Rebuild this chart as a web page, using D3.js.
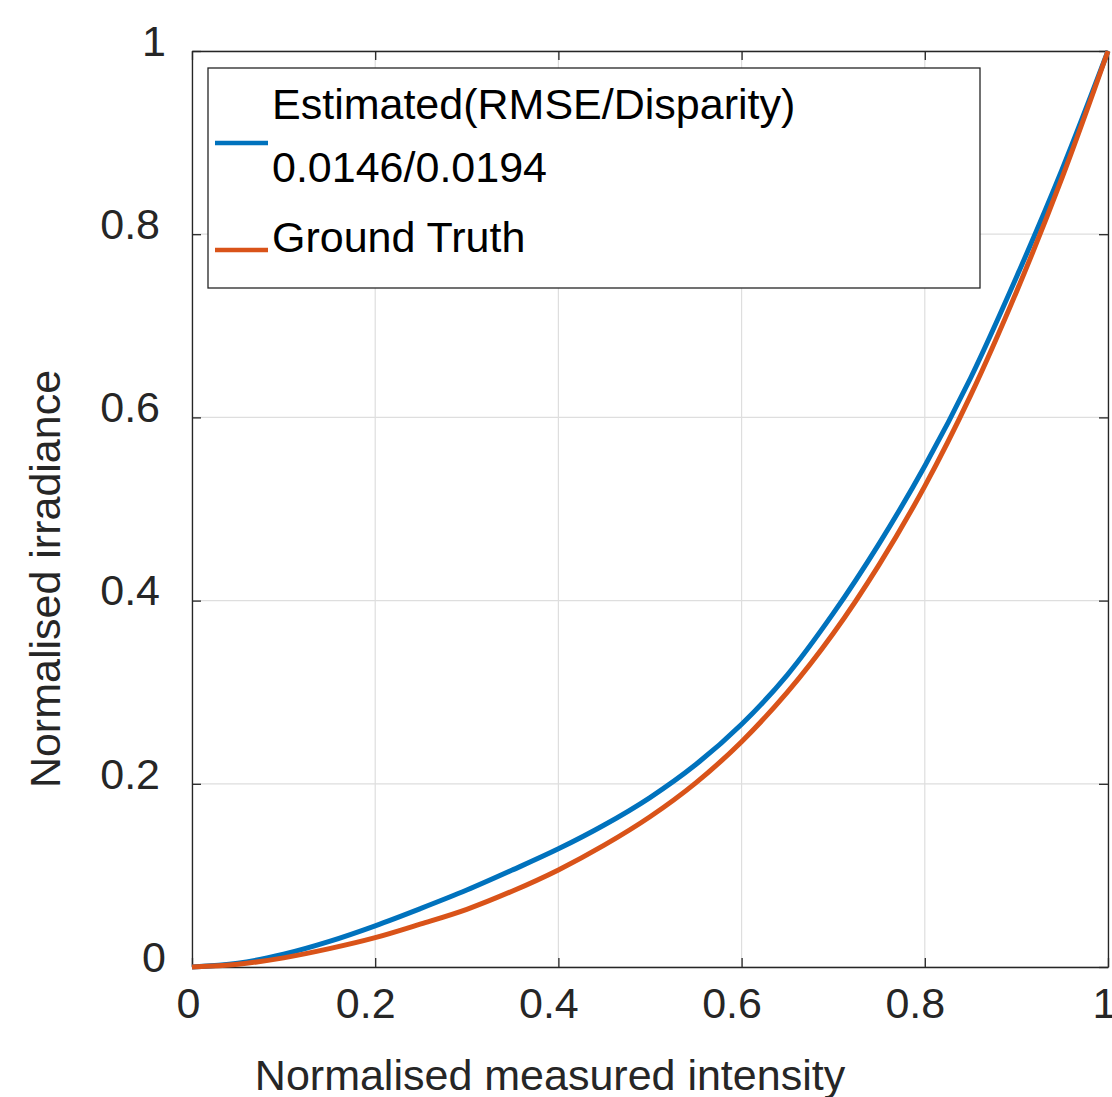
<!DOCTYPE html>
<html lang="en">
<head>
    <meta charset="UTF-8">
    <title>response-curve</title>
    <style>
        body {
            margin: 0;
            background: #fff;
            font-family: "Liberation Sans", Arial, Helvetica, sans-serif;
        }
    </style>
    <script src="https://d3js.org/d3.v7.min.js"></script>
</head>
<body>

<script>

    // values
    let xValues = [0, 0.05, 0.1, 0.15, 0.2, 0.25, 0.3, 0.35, 0.4, 0.45, 0.5,
                   0.55, 0.6, 0.65, 0.7, 0.75, 0.8, 0.85, 0.9, 0.95, 1]
    let estimated = [0, 0.004, 0.014, 0.028, 0.045, 0.064, 0.084, 0.106, 0.129, 0.155, 0.185,
                     0.221, 0.265, 0.319, 0.386, 0.462, 0.547, 0.643, 0.753, 0.871, 1]
    let groundTruth = [0, 0.003, 0.010, 0.020, 0.032, 0.047, 0.063, 0.083, 0.106, 0.133, 0.164,
                       0.201, 0.246, 0.300, 0.364, 0.439, 0.525, 0.624, 0.737, 0.862, 1]
    let tickValues = [0, 0.2, 0.4, 0.6, 0.8, 1]
    let tickLabels = ["0", "0.2", "0.4", "0.6", "0.8", "1"]
    let legendLabels = [["Estimated(RMSE/Disparity)", "0.0146/0.0194"], ["Ground Truth"]]
    let seriesColors = ["#0072BD", "#D95319"]

    let width = 1112
    let height = 1097
    let axisColor = "#262626"
    let gridColor = "#dedede"
    let fontSize = 43

    let svg = d3.select("body").append("svg")
        .attr("width", width)
        .attr("height", height)

    let x = d3.scaleLinear().domain([0, 1]).range([192, 1108])
    let y = d3.scaleLinear().domain([0, 1]).range([967, 51])

    // grid
    let grid = svg.append("g")
    grid.selectAll(".vgrid").data(tickValues).enter().append("line")
        .attr("x1", d => x(d)).attr("x2", d => x(d))
        .attr("y1", y(0)).attr("y2", y(1))
        .attr("stroke", gridColor).attr("stroke-width", 1.2)
    grid.selectAll(".hgrid").data(tickValues).enter().append("line")
        .attr("x1", x(0)).attr("x2", x(1))
        .attr("y1", d => y(d)).attr("y2", d => y(d))
        .attr("stroke", gridColor).attr("stroke-width", 1.2)

    // axes with inward ticks
    let fmt = (d, i) => tickLabels[i]
    let xAxis = svg.append("g")
        .attr("transform", "translate(0," + y(0) + ")")
        .call(d3.axisBottom(x).tickValues(tickValues).tickFormat(fmt).tickSizeInner(-9).tickSizeOuter(0).tickPadding(20))
    let yAxis = svg.append("g")
        .attr("transform", "translate(" + x(0) + ",0)")
        .call(d3.axisLeft(y).tickValues(tickValues).tickFormat(fmt).tickSizeInner(-9).tickSizeOuter(0).tickPadding(32))
    svg.append("g")
        .attr("transform", "translate(0," + y(1) + ")")
        .call(d3.axisTop(x).tickValues(tickValues).tickFormat("").tickSizeInner(-9).tickSizeOuter(0))
    svg.append("g")
        .attr("transform", "translate(" + x(1) + ",0)")
        .call(d3.axisRight(y).tickValues(tickValues).tickFormat("").tickSizeInner(-9).tickSizeOuter(0))

    svg.selectAll(".domain").attr("stroke", axisColor).attr("stroke-width", 1.3)
    svg.selectAll(".tick line").attr("stroke", axisColor).attr("stroke-width", 1.3)
    svg.selectAll(".tick text")
        .attr("fill", axisColor)
        .style("font-size", fontSize + "px")
        .style("font-family", "'Liberation Sans', Arial, Helvetica, sans-serif")
    xAxis.selectAll(".tick text")
        .attr("dx", (d, i) => tickLabels[i].length > 1 ? -10 : -4)
    yAxis.selectAll(".tick text")
        .attr("dy", "0.1em")
        .attr("dx", (d, i) => tickLabels[i].length > 1 ? 0 : 6)

    // curves
    let line = d3.line()
        .x((d, i) => x(xValues[i]))
        .y(d => y(d))
        .curve(d3.curveCatmullRom)

    let seriesList = [estimated, groundTruth]
    svg.append("g").selectAll("path")
        .data(seriesList)
        .enter()
        .append("path")
        .attr("d", d => line(d))
        .attr("fill", "none")
        .attr("stroke", (d, i) => seriesColors[i])
        .attr("stroke-width", 5)
        .attr("stroke-linejoin", "round")

    // legend
    let legend = svg.append("g")
    legend.append("rect")
        .attr("x", 208).attr("y", 68)
        .attr("width", 772).attr("height", 220)
        .attr("fill", "#fff")
        .attr("stroke", axisColor)
        .attr("stroke-width", 1.3)

    let legendLineY = [143, 250]
    let legendTextY = [[119, 182], [252]]
    legendLabels.forEach(function (lines, i) {
        legend.append("line")
            .attr("x1", 215).attr("x2", 268)
            .attr("y1", legendLineY[i]).attr("y2", legendLineY[i])
            .attr("stroke", seriesColors[i])
            .attr("stroke-width", 4.5)
        lines.forEach(function (t, j) {
            legend.append("text")
                .attr("x", 272)
                .attr("y", legendTextY[i][j])
                .attr("fill", "#000")
                .style("font-size", fontSize + "px")
                .text(t)
        })
    })

    // axis titles
    svg.append("text")
        .attr("x", 550)
        .attr("y", 1090)
        .attr("text-anchor", "middle")
        .attr("fill", axisColor)
        .style("font-size", fontSize + "px")
        .text("Normalised measured intensity")

    svg.append("text")
        .attr("transform", "translate(60,579) rotate(-90)")
        .attr("text-anchor", "middle")
        .attr("fill", axisColor)
        .style("font-size", fontSize + "px")
        .text("Normalised irradiance")

</script>

</body>
</html>
